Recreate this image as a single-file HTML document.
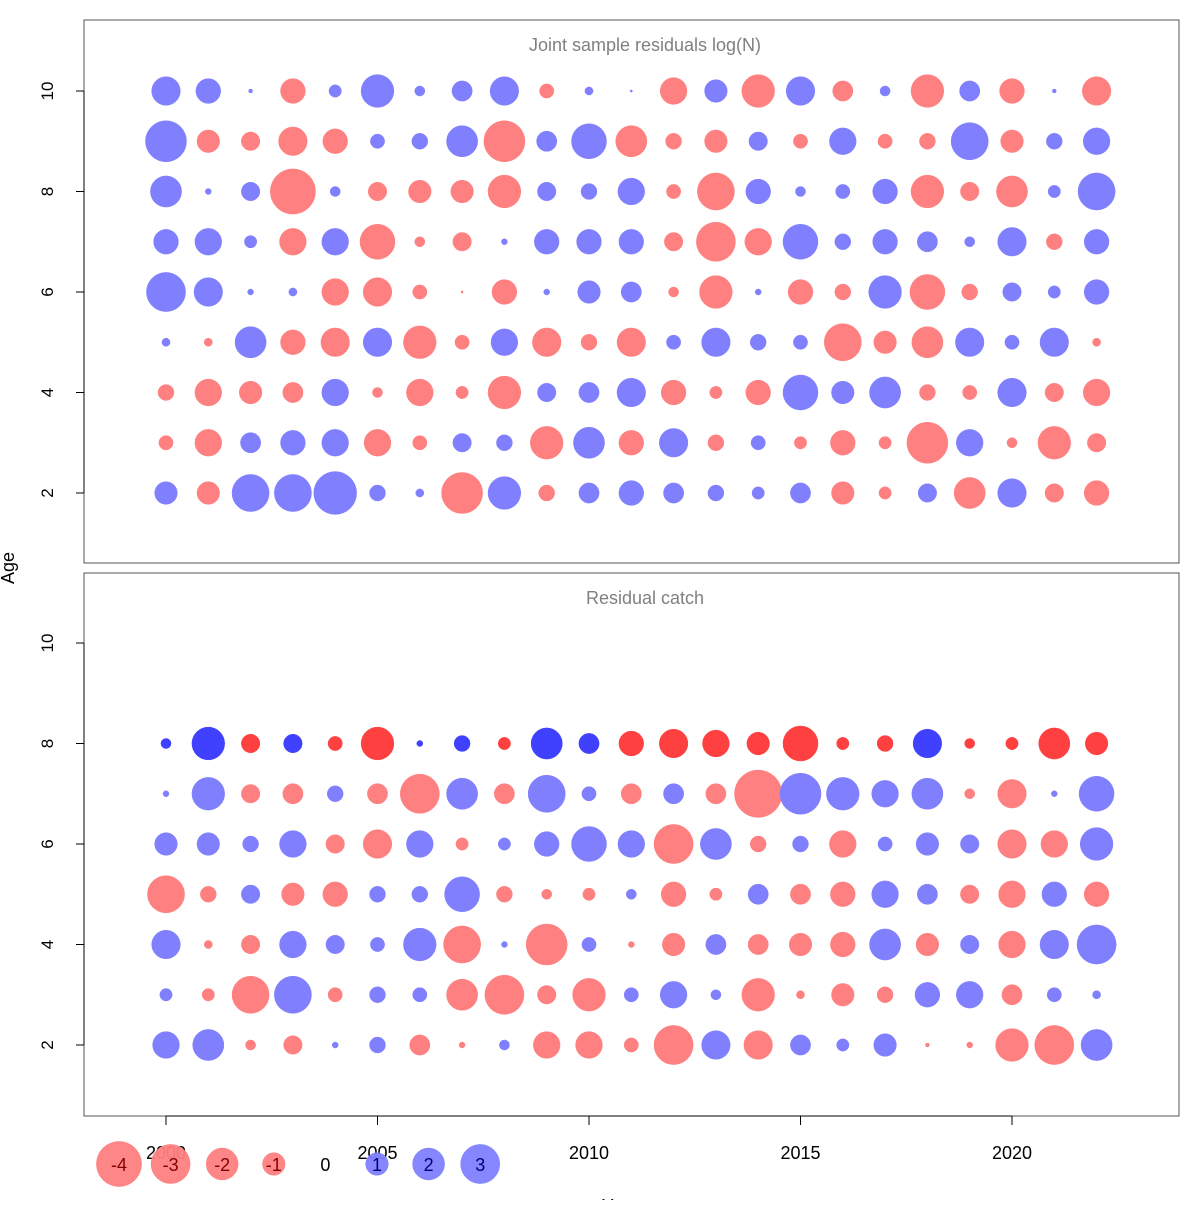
<!DOCTYPE html>
<html><head><meta charset="utf-8"><style>
body{margin:0;background:#fff;}
svg text{font-family:"Liberation Sans",sans-serif;}
</style></head><body>
<svg id="chart" width="1200" height="1200" xmlns="http://www.w3.org/2000/svg">
<rect x="0" y="0" width="1200" height="1200" fill="#fff"/>
<rect x="84" y="20" width="1095" height="543" fill="none" stroke="#555" stroke-width="1"/>
<rect x="84" y="573" width="1095" height="543" fill="none" stroke="#555" stroke-width="1"/>
<text x="645" y="51" font-size="18" fill="#808080" text-anchor="middle">Joint sample residuals log(N)</text>
<text x="645" y="604" font-size="18" fill="#808080" text-anchor="middle">Residual catch</text>
<text x="0" y="0" font-size="18" text-anchor="middle" transform="translate(14,568) rotate(-90)">Age</text>
<text x="620" y="1212" font-size="18" text-anchor="middle">Year</text>
<g id="axes"></g>
<g id="marks"></g>
<g id="legend"></g>
</svg>
<script>
const years = [2000,2001,2002,2003,2004,2005,2006,2007,2008,2009,2010,2011,2012,2013,2014,2015,2016,2017,2018,2019,2020,2021,2022];
const topAges = [10,9,8,7,6,5,4,3,2];
const topAge10 = [1.6,1.2,0.03,-1.2,0.3,2.1,0.2,0.8,1.6,-0.4,0.13,0.01,-1.4,1.0,-2.1,1.6,-0.8,0.2,-2.1,0.8,-1.2,0.03,-1.6];
const topAge9 = [3.3,-1.0,-0.67,-1.6,-1.2,0.4,0.5,1.9,-3.3,0.8,2.4,-1.9,-0.5,-1.0,0.67,-0.4,1.4,-0.4,-0.5,2.7,-1.0,0.5,1.4];
const topAge8 = [1.9,0.07,0.67,-4.0,0.2,-0.67,-1.0,-1.0,-2.1,0.67,0.5,1.4,-0.4,-2.7,1.2,0.2,0.4,1.2,-2.1,-0.67,-1.9,0.3,2.7];
const topAge7 = [1.2,1.4,0.3,-1.4,1.4,-2.4,-0.2,-0.67,0.07,1.2,1.2,1.2,-0.67,-3.0,-1.4,2.4,0.5,1.2,0.8,0.2,1.6,-0.5,1.2];
const topAge6 = [3.0,1.6,0.07,0.13,-1.4,-1.6,-0.4,-0.01,-1.2,0.07,1.0,0.8,-0.2,-2.1,0.07,-1.2,-0.5,2.1,-2.4,-0.5,0.67,0.3,1.2];
const topAge5 = [0.13,-0.13,1.9,-1.2,-1.6,1.6,-2.1,-0.4,1.4,-1.6,-0.5,-1.6,0.4,1.6,0.5,0.4,-2.7,-1.0,-1.9,1.6,0.4,1.6,-0.13];
const topAge4 = [-0.5,-1.4,-1.0,-0.8,1.4,-0.2,-1.4,-0.3,-2.1,0.67,0.8,1.6,-1.2,-0.3,-1.2,2.4,1.0,1.9,-0.5,-0.4,1.6,-0.67,-1.4];
const topAge3 = [-0.4,-1.4,0.8,1.2,1.4,-1.4,-0.4,0.67,0.5,-2.1,1.9,-1.2,1.6,-0.5,0.4,-0.3,-1.2,-0.3,-3.3,1.4,-0.2,-2.1,-0.67];
const topAge2 = [1.0,-1.0,2.7,2.7,3.6,0.5,0.13,-3.3,2.1,-0.5,0.8,1.2,0.8,0.5,0.3,0.8,-1.0,-0.3,0.67,-1.9,1.6,-0.67,-1.2];
const botAges = [8,7,6,5,4,3,2];
const botAge8 = [0.2,2.1,-0.67,0.67,-0.4,-2.1,0.07,0.5,-0.3,1.9,0.8,-1.2,-1.6,-1.4,-1.0,-2.4,-0.3,-0.5,1.6,-0.2,-0.3,-1.9,-1.0];
const botAge7 = [0.07,2.1,-0.67,-0.8,0.5,-0.8,-3.0,1.9,-0.8,2.7,0.4,-0.8,0.8,-0.8,-4.4,3.3,2.1,1.4,1.9,-0.2,-1.6,0.07,2.4];
const botAge6 = [1.0,1.0,0.5,1.4,-0.67,-1.6,1.4,-0.3,0.3,1.2,2.4,1.4,-3.0,1.9,-0.5,0.5,-1.4,0.4,1.0,0.67,-1.6,-1.4,2.1];
const botAge5 = [-2.7,-0.5,0.67,-1.0,-1.2,0.5,0.5,2.4,-0.5,-0.2,-0.3,0.2,-1.2,-0.3,0.8,-0.8,-1.2,1.4,0.8,-0.67,-1.4,1.2,-1.2];
const botAge4 = [1.6,-0.13,-0.67,1.4,0.67,0.4,2.1,-2.7,0.07,-3.3,0.4,-0.07,-1.0,0.8,-0.8,-1.0,-1.2,1.9,-1.0,0.67,-1.4,1.6,3.0];
const botAge3 = [0.3,-0.3,-2.7,2.7,-0.4,0.5,0.4,-1.9,-3.0,-0.67,-2.1,0.4,1.4,0.2,-2.1,-0.13,-1.0,-0.5,1.2,1.4,-0.8,0.4,0.13];
const botAge2 = [1.4,1.9,-0.2,-0.67,0.07,0.5,-0.8,-0.07,0.2,-1.4,-1.4,-0.4,-3.0,1.6,-1.6,0.8,0.3,1.0,-0.03,-0.07,-2.1,-3.0,1.9];
const xTicks = [2000,2005,2010,2015,2020];
const yTicks = [2,4,6,8,10];
const legendVals = [-4,-3,-2,-1,0,1,2,3];

const NS='http://www.w3.org/2000/svg';
function xS(yr){return 166+(yr-2000)*42.3;}
function yTop(a){return 493-(a-2)*50.25;}
function yBot(a){return 1045-(a-2)*50.25;}
function rS(v){return 11.3*Math.sqrt(Math.abs(v));}
function mk(tag,attrs,parent){const e=document.createElementNS(NS,tag);for(const k in attrs)e.setAttribute(k,attrs[k]);parent.appendChild(e);return e;}
const marks=document.getElementById('marks');
const axes=document.getElementById('axes');
const legend=document.getElementById('legend');

function drawRow(vals,age,yFn,panel,dark){
  vals.forEach((v,i)=>{
    if(v===0)return;
    const fill = v<0 ? (dark?'#ff4040':'#ff8080') : (dark?'#4040ff':'#8080ff');
    const c=mk('circle',{cx:xS(years[i]),cy:yFn(age),r:rS(v),fill:fill,stroke:fill,'stroke-width':0.5},marks);
    
    
  });
}
const topRows=[topAge10,topAge9,topAge8,topAge7,topAge6,topAge5,topAge4,topAge3,topAge2];
topRows.forEach((r,i)=>drawRow(r,topAges[i],yTop,'top',false));
const botRows=[botAge8,botAge7,botAge6,botAge5,botAge4,botAge3,botAge2];
botRows.forEach((r,i)=>drawRow(r,botAges[i],yBot,'bottom',botAges[i]===8));

[yTop,yBot].forEach((fn,p)=>{
  const nm=p===0?'top':'bottom';
  mk('line',{x1:84,x2:84,y1:fn(2),y2:fn(10),stroke:'#000'},axes);
  yTicks.forEach(t=>{
    const y=fn(t);
    const l=mk('line',{x1:76,x2:84,y1:y,y2:y,stroke:'#000'},axes);
    
    
    const tx=mk('text',{x:0,y:0,'font-size':17,'text-anchor':'middle',transform:'translate(53,'+y+') rotate(-90)'},axes);
    tx.textContent=t;
    
    
  });
});
mk('line',{x1:xS(2000),x2:xS(2020),y1:1116,y2:1116,stroke:'#000'},axes);
xTicks.forEach(t=>{
  const x=xS(t);
  const l=mk('line',{x1:x,x2:x,y1:1116,y2:1125,stroke:'#000'},axes);
  
  
  const tx=mk('text',{x:x,y:1159,'font-size':18,'text-anchor':'middle'},axes);
  tx.textContent=t;
  
  
});
legendVals.forEach((v,i)=>{
  const x=119+i*51.6;
  if(v!==0){
    const fill=v<0?'#ff8080':'#8080ff';
    const c=mk('circle',{cx:x,cy:1164,r:rS(v),fill:fill,stroke:fill,'stroke-width':0.5,'fill-opacity':0.95},legend);
    
    
  }
  const tx=mk('text',{x:x,y:1171,'font-size':18,'text-anchor':'middle',fill:v<0?'#800000':(v>0?'#000080':'#000')},legend);
  tx.textContent=v;
  
  
});
</script>
</body></html>
